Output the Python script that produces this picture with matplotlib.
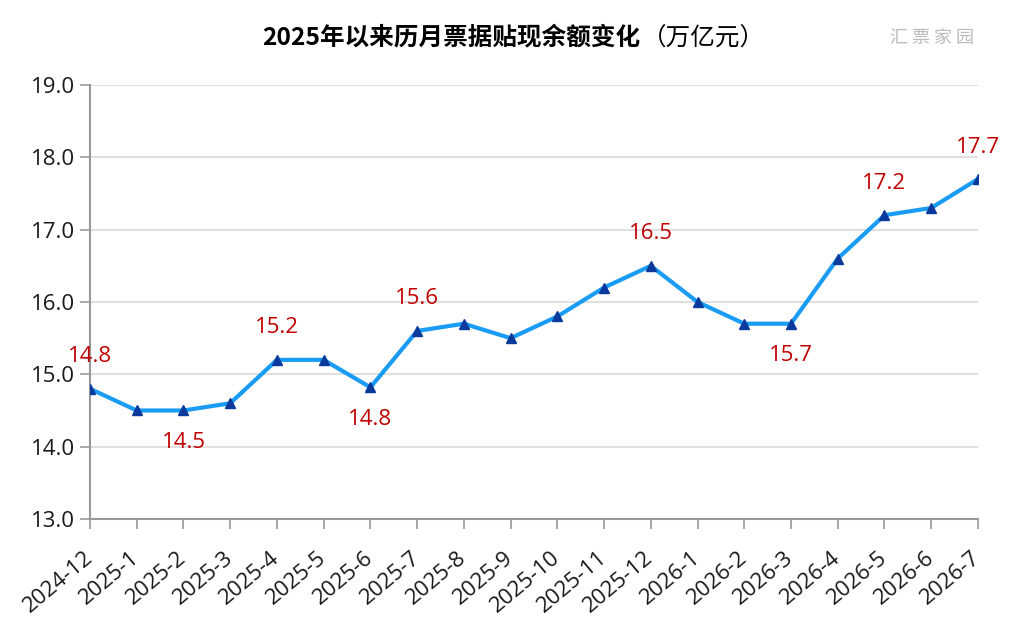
import matplotlib
matplotlib.use("Agg")
import matplotlib.pyplot as plt

plt.rcParams["font.family"] = ["Open Sans", "Noto Sans CJK SC", "DejaVu Sans"]

# =========================
# data
# =========================
months = [
    "2024-12", "2025-1", "2025-2", "2025-3", "2025-4", "2025-5", "2025-6",
    "2025-7", "2025-8", "2025-9", "2025-10", "2025-11", "2025-12",
    "2026-1", "2026-2", "2026-3", "2026-4", "2026-5", "2026-6", "2026-7",
]
balance = [
    14.8, 14.5, 14.5, 14.6, 15.2, 15.2, 14.82,
    15.6, 15.7, 15.5, 15.8, 16.2, 16.5,
    16.0, 15.7, 15.7, 16.6, 17.2, 17.3, 17.7,
]
# labelled points: index -> above (+1) / below (-1)
label_idx = [0, 2, 4, 6, 7, 12, 15, 17, 19]
label_side = [1, -1, 1, -1, 1, 1, -1, 1, 1]
label_text = ["14.8", "14.5", "15.2", "14.8", "15.6", "16.5", "15.7", "17.2", "17.7"]

y_ticks = [13.0, 14.0, 15.0, 16.0, 17.0, 18.0, 19.0]

# =========================
# plot
# =========================
fig = plt.figure(figsize=(10.24, 6.28), dpi=100)
ax = fig.add_axes([0.0879, 0.1736, 0.955 - 0.0879, 0.8646 - 0.1736])

x = list(range(len(months)))
ax.plot(x, balance, color="#1A9CF5", linewidth=3, zorder=3)
ax.plot(x, balance, linestyle="none", marker="^", markersize=7,
        color="#0A3A9C", zorder=4)

for i, side, txt in zip(label_idx, label_side, label_text):
    ax.annotate(txt, (x[i], balance[i]), xytext=(0, 32 * side),
                textcoords="offset pixels", ha="center", va="center",
                fontsize=16, color="#C00000")

ax.set_xlim(0, len(months) - 1)
ax.set_ylim(13, 19)
ax.set_yticks(y_ticks)
ax.set_yticklabels([f"{v:.1f}" for v in y_ticks], fontsize=16, color="#1a1a1a")
ax.set_xticks(x)
ax.set_xticklabels(months, rotation=40, ha="right", va="center",
                   rotation_mode="anchor", fontsize=16, color="#1a1a1a")

ax.grid(axis="y", color="#D9D9D9", linewidth=1.2)
ax.set_axisbelow(True)
for s in ["top", "right"]:
    ax.spines[s].set_visible(False)
for s in ["left", "bottom"]:
    ax.spines[s].set_color("#999999")
    ax.spines[s].set_linewidth(1.5)
ax.tick_params(axis="both", direction="out", length=7, width=1.2,
               color="#999999", pad=4)
ax.tick_params(axis="x", pad=19)

cjk = ["Noto Sans CJK SC", "DejaVu Sans"]
fig.text(0.625, 0.94, "2025年以来历月票据贴现余额变化", fontsize=17.7,
         fontweight="bold", ha="right", va="center", family=cjk)
fig.text(0.627, 0.94, "（万亿元）", fontsize=17.7, ha="left", va="center",
         family=cjk)
fig.text(0.91, 0.94, "汇 票 家 园", fontsize=13, color="#BBBBBB",
         ha="center", va="center", family=cjk)

fig.savefig("out.png", dpi=100)
